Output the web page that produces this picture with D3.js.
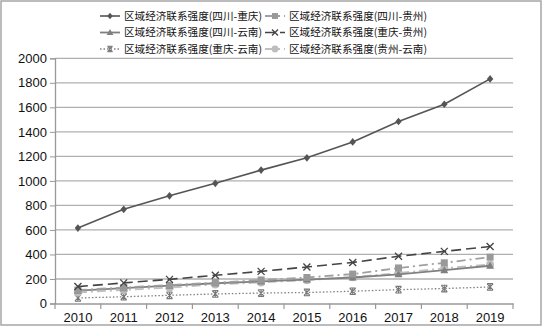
<!DOCTYPE html>
<html><head><meta charset="utf-8">
<script src="https://cdn.jsdelivr.net/npm/d3@7/dist/d3.min.js"></script>
<style>body{margin:0;background:#fff}svg{display:block}</style>
</head><body>
<script>
const years = ["2010","2011","2012","2013","2014","2015","2016","2017","2018","2019"];
const yTicks = [0,200,400,600,800,1000,1200,1400,1600,1800,2000];
const seriesNames = ["区域经济联系强度(四川-重庆)","区域经济联系强度(四川-贵州)","区域经济联系强度(四川-云南)","区域经济联系强度(重庆-贵州)","区域经济联系强度(重庆-云南)","区域经济联系强度(贵州-云南)"];
const scCq = [615, 768, 878, 980, 1088, 1188, 1318, 1485, 1625, 1832];
const scGz = [110, 130, 150, 170, 192, 212, 240, 290, 332, 378];
const scYn = [105, 125, 145, 165, 180, 195, 212, 238, 272, 308];
const cqGz = [138, 168, 197, 230, 262, 298, 335, 385, 425, 465];
const cqYn = [45, 55, 67, 78, 85, 90, 100, 113, 122, 135];
const gzYn = [90, 110, 130, 155, 172, 190, 215, 248, 288, 318];

const styles = [
  {color:"#555", dash:null, marker:"diamond", mcolor:"#555", w:1.6},
  {color:"#a0a0a0", dash:"9,4,2,4", marker:"square", mcolor:"#999", w:1.8},
  {color:"#808080", dash:null, marker:"triangle", mcolor:"#808080", w:1.8},
  {color:"#444", dash:"10,5", marker:"x", mcolor:"#444", w:1.6},
  {color:"#808080", dash:"1.5,2", marker:"star", mcolor:"#777", w:1.3},
  {color:"#c0c0c0", dash:"9,4,2,4", marker:"circle", mcolor:"#bdbdbd", w:1.8}
];
const allData = [scCq, scGz, scYn, cqGz, cqYn, gzYn];

const W=544,H=327;
const svg = d3.select("body").append("svg").attr("width",W).attr("height",H);
svg.append("rect").attr("x",1).attr("y",1).attr("width",540).attr("height",324)
  .attr("fill","#fff").attr("stroke","#a6a6a6").attr("stroke-width",1.5);

const x = d3.scaleBand().domain(years).range([55,513]);
const y = d3.scaleLinear().domain([0,2000]).range([303.5,58.3]);

// gridlines
svg.append("g").selectAll("line").data(yTicks.filter(d=>d>0)).join("line")
  .attr("x1",55).attr("x2",513).attr("y1",d=>y(d)).attr("y2",d=>y(d))
  .attr("stroke","#b0b0b0").attr("stroke-width",1.3);

// y axis
const ya = svg.append("g").attr("transform","translate(55,0)")
  .call(d3.axisLeft(y).tickValues(yTicks).tickSize(5).tickPadding(3).tickFormat(d3.format("d")));
ya.select(".domain").attr("stroke","#999").attr("stroke-width",1.3);
ya.selectAll(".tick line").attr("stroke","#999");
ya.selectAll("text").attr("font-family","Liberation Sans, Arial, sans-serif").attr("font-size",13).attr("fill","#111");

// x axis
const xa = svg.append("g").attr("transform","translate(0,303.5)")
  .call(d3.axisBottom(x).tickSize(0).tickPadding(9));
xa.select(".domain").attr("stroke","#999").attr("stroke-width",1.3);
xa.selectAll("text").attr("font-family","Liberation Sans, Arial, sans-serif").attr("font-size",13).attr("fill","#111");
const bounds = years.map(d=>x(d)).concat([x(years[years.length-1])+x.bandwidth()]);
svg.append("g").selectAll("line").data(bounds).join("line")
  .attr("x1",d=>d).attr("x2",d=>d).attr("y1",303.5).attr("y2",309)
  .attr("stroke","#999").attr("stroke-width",1.2);

function drawMarker(g, type, cx, cy, col, s){
  s = s||1;
  if(type==="diamond"){
    g.append("path").attr("d",`M${cx},${cy-3.8*s}L${cx+3.2*s},${cy}L${cx},${cy+3.8*s}L${cx-3.2*s},${cy}Z`).attr("fill",col);
  } else if(type==="square"){
    g.append("rect").attr("x",cx-3.5*s).attr("y",cy-3.5*s).attr("width",7*s).attr("height",7*s).attr("fill",col);
  } else if(type==="triangle"){
    g.append("path").attr("d",`M${cx},${cy-4*s}L${cx+4*s},${cy+3*s}L${cx-4*s},${cy+3*s}Z`).attr("fill",col);
  } else if(type==="x"){
    g.append("path").attr("d",`M${cx-3.5*s},${cy-3.5*s}L${cx+3.5*s},${cy+3.5*s}M${cx+3.5*s},${cy-3.5*s}L${cx-3.5*s},${cy+3.5*s}`).attr("stroke",col).attr("stroke-width",1.3).attr("fill","none");
  } else if(type==="star"){
    g.append("path").attr("d",`M${cx-3*s},${cy-3*s}L${cx+3*s},${cy+3*s}M${cx+3*s},${cy-3*s}L${cx-3*s},${cy+3*s}M${cx-3*s},${cy-3.3*s}L${cx+3*s},${cy-3.3*s}M${cx-3*s},${cy+3.3*s}L${cx+3*s},${cy+3.3*s}M${cx},${cy-3.3*s}L${cx},${cy+3.3*s}`).attr("stroke",col).attr("stroke-width",1.1).attr("fill","none");
  } else if(type==="circle"){
    g.append("circle").attr("cx",cx).attr("cy",cy).attr("r",4*s).attr("fill",col);
  }
}

const line = d3.line().x((d,i)=>x(years[i])+x.bandwidth()/2).y(d=>y(d));
// draw in order so that the main lines are on top
const order = [4,5,2,1,3,0];
order.forEach(k=>{
  const st = styles[k];
  const g = svg.append("g");
  g.append("path").attr("d",line(allData[k])).attr("fill","none")
    .attr("stroke",st.color).attr("stroke-width",st.w)
    .attr("stroke-dasharray",st.dash);
  allData[k].forEach((v,i)=>drawMarker(g, st.marker, x(years[i])+x.bandwidth()/2, y(v), st.mcolor));
});

// legend
const legPos = [[100,16],[265,16],[100,32.5],[265,32.5],[100,49],[265,49]];
seriesNames.forEach((name,k)=>{
  const st = styles[k];
  const [lx,ly] = legPos[k];
  const g = svg.append("g");
  g.append("line").attr("x1",lx).attr("x2",lx+20).attr("y1",ly).attr("y2",ly)
    .attr("stroke",st.color).attr("stroke-width",st.w).attr("stroke-dasharray",st.dash);
  drawMarker(g, st.marker, lx+10, ly, st.mcolor, 0.85);
  g.append("text").attr("x",lx+24).attr("y",ly).attr("dy","0.36em")
    .attr("font-family","Noto Sans CJK SC, sans-serif").attr("font-size",10.6)
    .attr("fill","#111").text(name);
});
</script>
</body></html>
